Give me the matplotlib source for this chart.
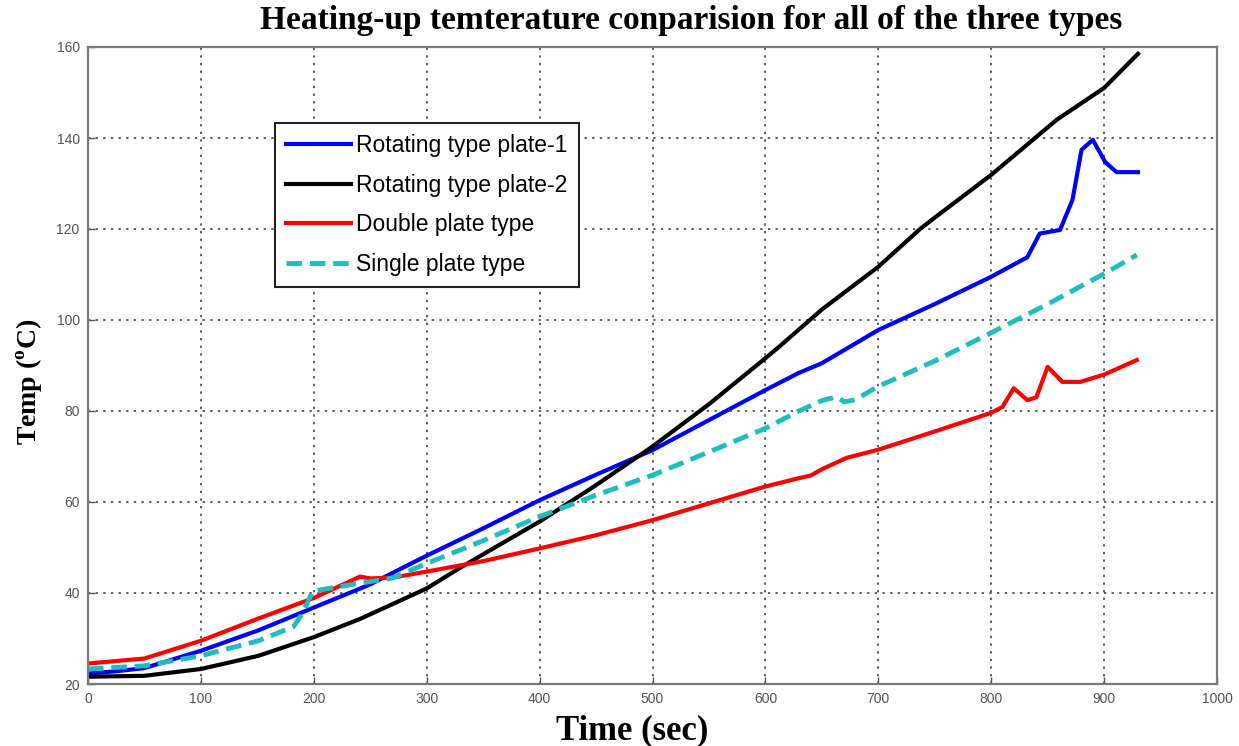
import matplotlib
matplotlib.use("Agg")
import matplotlib.pyplot as plt

# ---- data ----
t_plate1 = [0, 25, 50, 100, 151, 200, 250, 276, 300, 350, 400, 450, 500, 550, 600, 629, 650,
            700, 750, 800, 832, 843, 861, 872, 880, 890, 901, 911, 930]
v_plate1 = [22.3, 22.8, 23.5, 27.3, 31.8, 36.8, 41.9, 45.2, 48.2, 54.2, 60.4, 66.0, 71.4, 78.0,
            84.6, 88.3, 90.5, 97.8, 103.5, 109.5, 113.8, 119.0, 119.8, 126.4, 137.4, 139.6,
            134.7, 132.5, 132.5]

t_plate2 = [0, 50, 100, 151, 200, 241, 300, 328, 350, 400, 450, 500, 550, 600, 613, 650, 700,
            737, 750, 800, 858, 900, 930]
v_plate2 = [21.6, 21.8, 23.3, 26.2, 30.3, 34.3, 41.0, 45.3, 48.5, 55.7, 63.7, 72.2, 81.5, 91.6,
            94.3, 102.3, 111.7, 120.0, 122.5, 131.9, 144.0, 151.0, 158.5]

t_double = [0, 50, 100, 151, 200, 241, 250, 270, 300, 350, 400, 450, 500, 550, 600, 629, 640,
            650, 672, 700, 750, 800, 810, 820, 832, 840, 850, 863, 879, 900, 929]
v_double = [24.5, 25.6, 29.5, 34.4, 38.9, 43.6, 43.2, 43.4, 44.7, 47.0, 49.8, 52.7, 56.0, 59.7,
            63.4, 65.2, 65.8, 67.2, 69.7, 71.5, 75.5, 79.6, 80.9, 85.0, 82.4, 83.0, 89.7, 86.4,
            86.4, 88.0, 91.2]

t_single = [0, 50, 100, 151, 182, 190, 199, 225, 270, 300, 350, 400, 450, 500, 550, 600, 629,
            650, 663, 670, 680, 699, 750, 800, 850, 901, 929]
v_single = [23.3, 24.0, 26.2, 29.5, 32.6, 35.5, 40.4, 41.5, 43.3, 46.5, 51.5, 56.8, 61.5, 65.9,
            71.0, 76.2, 79.9, 82.3, 83.1, 82.0, 82.5, 85.3, 91.0, 97.2, 103.5, 110.3, 114.3]

series_labels = ["Rotating type plate-1", "Rotating type plate-2", "Double plate type",
                 "Single plate type"]
x_ticks = [0, 100, 200, 300, 400, 500, 600, 700, 800, 900, 1000]
y_ticks = [20, 40, 60, 80, 100, 120, 140, 160]

title_text = "Heating-up temterature conparision for all of the three types"
xlabel_text = "Time (sec)"
ylabel_text = "Temp ($^{\\mathregular{o}}$C)"

# ---- figure ----
fig = plt.figure(figsize=(12.39, 7.46), dpi=100)
ax = fig.add_axes([88 / 1239, 1 - 684 / 746, (1217 - 88) / 1239, (684 - 47) / 746])

ax.plot(t_plate1, v_plate1, color="#0000ff", lw=3.0, label=series_labels[0])
ax.plot(t_plate2, v_plate2, color="#000000", lw=3.0, label=series_labels[1])
ax.plot(t_double, v_double, color="#ff0000", lw=3.0, label=series_labels[2])
ax.plot(t_single, v_single, color="#1fbdbd", lw=3.5, ls=(0, (3.2, 1.6)), label=series_labels[3])

ax.set_xlim(0, 1000)
ax.set_ylim(20, 160)
ax.set_xticks(x_ticks)
ax.set_yticks(y_ticks)
ax.set_xticklabels([str(v) for v in x_ticks])
ax.set_yticklabels([str(v) for v in y_ticks])
ax.tick_params(direction="in", length=5, width=1, colors="#555555", labelsize=10,
               labelcolor="#555555", pad=6)
for lab in ax.get_xticklabels() + ax.get_yticklabels():
    lab.set_family("Liberation Sans")

ax.grid(True, color="#333333", lw=1.1, ls=(0, (1.5, 3.5)))
ax.set_axisbelow(True)
for s in ax.spines.values():
    s.set_color("#7a7a7a")
    s.set_linewidth(1.6)

fig.text(691 / 1239, 1 - 21 / 746, title_text, ha="center", va="center",
         family="Liberation Serif", weight="bold", fontsize=24)
fig.text(632 / 1239, 1 - 731 / 746, xlabel_text, ha="center", va="center",
         family="Liberation Serif", weight="bold", fontsize=25)
fig.text(30 / 1239, 1 - 382 / 746, ylabel_text, ha="center", va="center", rotation=90,
         family="Liberation Serif", weight="bold", fontsize=20)

leg = ax.legend(loc="upper left", bbox_to_anchor=((275 - 88) / 1129, (684 - 123) / 637),
                prop={"family": "Liberation Sans", "size": 16.5}, frameon=True, fancybox=False,
                handlelength=2.8, handletextpad=0.25, labelspacing=0.72, borderpad=0.5,
                borderaxespad=0)
leg.get_frame().set_edgecolor("#222222")
leg.get_frame().set_linewidth(1.5)
leg.get_frame().set_alpha(1)

fig.savefig("out.png", dpi=100)
